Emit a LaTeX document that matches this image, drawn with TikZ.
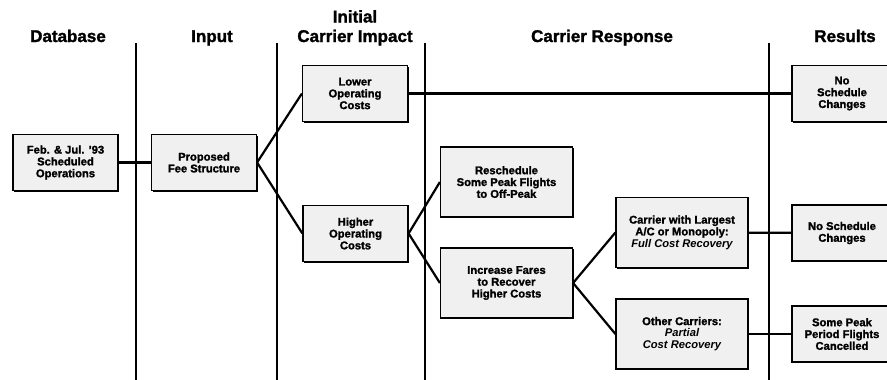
\documentclass[tikz,border=0pt]{standalone}
\usepackage{fontspec}
\setmainfont{Liberation Sans}[BoldFeatures={FakeBold=1.6}]
\usetikzlibrary{positioning,shadows}

\tikzset{
  heading/.style={font=\fontsize{17}{19.5}\selectfont\bfseries, align=center, anchor=base, inner sep=0pt},
  stage/.style={draw, line width=1.2pt, fill=gray!12, align=center, inner sep=1pt,
    font=\fontsize{11.2}{11.8}\selectfont\bfseries,
    drop shadow={shadow xshift=1pt, shadow yshift=-1pt, opacity=1, fill=black}},
  smallbox/.style={stage, minimum width=105pt, minimum height=56pt},
  widebox/.style={stage, minimum width=132pt, minimum height=70pt},
  lane/.style={line width=1.8pt},
  link/.style={line width=2.2pt},
}

\begin{document}
\begin{tikzpicture}[x=10pt, y=-10pt]
  \useasboundingbox (0,0) rectangle (88.7,38);

  % column dividers
  \foreach \x in {13.6, 27.7, 42.5, 76.9}
    \draw[lane] (\x,4.3) -- (\x,38);

  % column headings
  \node[heading] (hdb) at (6.8,4.2) {Database};
  \node[heading] (hin) at (21.2,4.2) {Input};
  \node[heading] (himp) at (35.5,4.2) {Initial\\Carrier Impact};
  \node[heading] (hresp) at (60.2,4.2) {Carrier Response};
  \node[heading] (hres) at (84.5,4.2) {Results};

  % stages
  \node[smallbox] (db) at (6.55,16.25) {Feb. \& Jul. '93\\Scheduled\\Operations};
  \node[smallbox] (input) at (20.4,16.25) {Proposed\\Fee Structure};
  \node[smallbox] (lower) at (35.5,9.35) {Lower\\Operating\\Costs};
  \node[smallbox] (higher) at (35.55,23.35) {Higher\\Operating\\Costs};
  \node[widebox] (resched) at (50.65,18.2) {Reschedule\\Some Peak Flights\\to Off-Peak};
  \node[widebox] (fares) at (50.65,28.3) {Increase Fares\\to Recover\\Higher Costs};
  \node[widebox] (largest) at (68.2,23.25) {Carrier with Largest\\A/C or Monopoly:\\\itshape Full Cost Recovery};
  \node[widebox] (others) at (68.2,33.4) {Other Carriers:\\\itshape Partial\\\itshape Cost Recovery};

  % results
  \node[smallbox, minimum width=100pt] (nochange1) at (84.2,9.35) {No\\Schedule\\Changes};
  \node[smallbox, minimum width=100pt] (nochange2) at (84.2,23.3) {No Schedule\\Changes};
  \node[smallbox, minimum width=100pt] (cancel) at (84.2,33.4) {Some Peak\\Period Flights\\Cancelled};

  % connectors
  \draw[link] (db) -- (input);
  \draw[link] (input.east) -- (lower.west);
  \draw[link] (input.east) -- (higher.west);
  \draw[link] (lower) -- (nochange1);
  \draw[link] (higher.east) -- (resched.west);
  \draw[link] (higher.east) -- (fares.west);
  \draw[link] (fares.east) -- (largest.west);
  \draw[link] (fares.east) -- (others.west);
  \draw[link] (largest) -- (nochange2);
  \draw[link] (others) -- (cancel);
\end{tikzpicture}
\end{document}
